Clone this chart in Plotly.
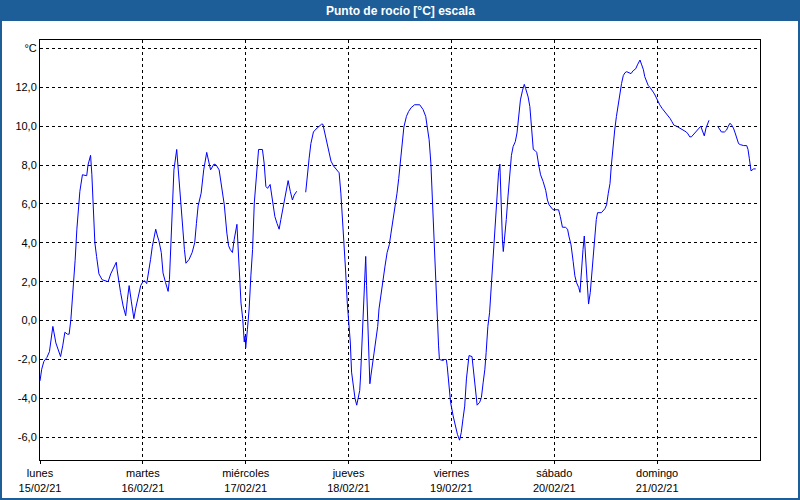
import pandas as pd
import plotly.graph_objects as go

# Hours since 15/02/21 00:00 and dew point readings (°C); None = missing data
hours = [
    0.0, 0.4, 0.9, 1.6, 2.2, 2.6, 3.0, 3.7, 4.3, 4.8, 5.3, 5.8, 6.4, 6.8, 7.2, 7.8,
    8.2, 8.6, 8.9, 9.3, 9.9, 10.9, 11.2, 11.65, 11.8, 12.1, 12.4, 12.8, 13.2, 13.75,
    14.5, 15.9, 16.5, 17.3, 17.8, 18.0, 18.4, 18.8, 19.4, 20.0, 20.4, 20.8, 21.3,
    21.9, 22.3, 22.9, 23.5, 24.0, 24.4, 24.9, 25.3, 25.8, 26.2, 27.0, 27.4, 27.75,
    28.3, 28.7, 29.3, 29.9, 30.2, 30.5, 30.9, 31.25, 31.9, 32.3, 32.8, 33.35, 33.7,
    34.05, 34.8, 35.5, 36.1, 36.5, 36.9, 37.6, 37.9, 38.2, 38.9, 39.2, 39.8, 40.6,
    41.1, 41.8, 42.4, 43.0, 43.6, 44.0, 44.4, 44.9, 45.3, 45.7, 45.95, 46.1, 46.5,
    46.9, 47.3, 47.66, 47.85, 48.0, 48.4, 48.8, 49.2, 49.6, 50.0, 50.4, 50.8, 51.0,
    51.9, 52.3, 52.7, 53.1, 53.7, 54.3, 54.8, 55.3, 55.8, 56.2, 56.6, 57.1, 57.6,
    57.9, 58.4, 58.9, 59.3, 59.9,
    61.0,
    62.0, 62.4, 62.8, 63.2, 63.8, 64.4, 65.2, 65.7, 66.0, 66.3, 66.8, 67.3, 67.9,
    68.5, 69.2, 69.8, 70.2, 70.6, 71.0, 71.3, 71.7, 72.0, 72.4, 72.7, 73.2, 73.5,
    73.9, 74.2, 74.6, 74.8, 75.2, 75.6, 75.8, 76.0, 76.2, 76.6, 76.97, 77.2, 77.6,
    78.1, 78.8, 79.1, 79.9, 80.5, 81.0, 81.5, 81.9, 82.5, 82.9, 83.3, 83.7, 84.1,
    84.5, 84.9, 85.5, 86.0, 86.6, 87.4, 88.6, 89.4, 90.0, 90.4, 90.8, 91.2, 91.5,
    91.7, 92.0, 92.3, 92.5, 92.7, 93.0, 93.2, 94.0, 94.4, 94.8, 95.0, 95.4, 95.8,
    96.4, 96.9, 97.4, 97.9, 98.3, 98.7, 99.1, 99.5, 99.9, 100.1, 100.8, 101.2,
    101.6, 102.0, 102.6, 103.0, 103.4, 103.8, 104.1, 104.5, 104.9, 105.3, 105.7,
    106.0, 106.2, 106.5, 106.7, 107.0, 107.3, 107.5, 107.7, 107.9, 108.1, 108.4,
    108.8, 109.2, 109.6, 110.0, 110.4, 110.9, 111.3, 111.7, 112.1, 112.6, 113.0,
    113.3, 113.9, 114.3, 114.7, 115.1, 115.5, 115.9, 116.4, 116.8, 117.4, 118.0,
    118.4, 118.8, 119.7, 120.5, 121.0, 121.4, 121.9, 122.6, 123.1, 123.4, 123.9,
    124.4, 124.8, 125.2, 125.7, 126.0, 126.3, 126.7, 127.0, 127.3, 127.5, 127.7,
    128.0, 128.4, 128.7, 129.1, 129.5, 129.8, 130.1, 131.0, 131.8, 132.2, 132.6,
    133.0, 133.3, 133.7, 134.1, 134.5, 134.9, 135.3, 135.7, 136.1, 136.5, 136.9,
    137.4, 137.9, 138.4, 139.0, 139.4, 140.0, 140.4, 140.8, 141.1, 141.5, 141.9,
    142.3, 142.7, 143.1, 143.5, 143.8, 144.2, 144.6, 145.2, 145.8, 146.4, 147.0,
    147.4, 147.9, 148.5, 149.3, 149.8, 150.5, 150.8, 151.2, 151.6, 152.0, 152.4,
    153.0, 153.4, 153.8, 154.2, 154.5, 155.0, 155.4, 155.7, 156.1,
    157.1,
    158.1, 158.5, 159.0, 159.7, 160.2, 160.6, 161.0, 161.4, 161.8, 162.2, 162.6,
    163.0, 163.4, 164.2, 164.9, 165.2, 165.5, 165.7, 165.9, 166.5, 167.0,
]
dew_point = [
    -3.1, -2.5, -2.1, -1.9, -1.6, -0.8, -0.3, -1.15, -1.6, -1.85, -1.3, -0.6, -0.7, -0.7, 0.05, 1.8,
    3.1, 4.7, 5.7, 6.65, 7.5, 7.45, 8.0, 8.3, 8.5, 7.5, 6.0, 4.0, 3.3, 2.4,
    2.1, 2.0, 2.4, 2.75, 3.0, 2.6, 1.95, 1.45, 0.75, 0.25, 1.1, 1.8, 1.0,
    0.1, 0.6, 1.25, 1.8, 2.0, 2.05, 1.9, 2.4, 3.15, 3.8, 4.7, 4.35, 4.1,
    3.5, 2.45, 1.95, 1.5, 2.1, 4.0, 6.05, 7.75, 8.8, 7.6, 6.05, 4.85, 3.65,
    2.95, 3.15, 3.5, 4.0, 5.0, 5.9, 6.55, 7.1, 7.75, 8.65, 8.35, 7.75, 8.05,
    8.0, 7.75, 6.75, 5.95, 4.5, 3.85, 3.65, 3.5, 4.15, 4.7, 4.95, 4.3, 2.6,
    0.9, 0.1, -1.1, -0.8, -1.4, -0.45, 0.6, 2.3, 3.65, 6.05, 7.25, 8.25, 8.8,
    8.8, 8.1, 6.9, 6.8, 7.0, 6.2, 5.35, 5.0, 4.7, 5.2, 5.7, 6.4, 7.0,
    7.2, 6.65, 6.2, 6.45, 6.65,
    None,
    6.6, 7.6, 8.35, 9.1, 9.7, 9.85, 10.0, 10.1, 10.1, 9.8, 9.2, 8.7, 8.2,
    7.95, 7.75, 7.6, 6.55, 5.2, 4.0, 2.6, 0.9, 0.05, -1.1, -2.65, -3.5, -4.0,
    -4.35, -3.95, -3.6, -2.85, -0.95, 1.1, 2.6, 3.3, 1.8, -0.8, -3.25, -2.85, -2.15,
    -1.3, -0.3, 0.6, 1.95, 2.8, 3.5, 3.9, 4.5, 5.35, 6.05, 6.55, 7.3, 8.25,
    9.1, 9.95, 10.5, 10.75, 10.95, 11.1, 11.1, 10.85, 10.5, 10.0, 9.3, 8.1, 6.4,
    5.2, 3.8, 2.45, 1.25, 0.05, -1.3, -2.0, -2.05, -2.0, -2.0, -2.3, -3.35, -4.2,
    -4.9, -5.4, -5.85, -6.15, -5.75, -5.05, -4.4, -3.0, -2.15, -1.8, -1.85, -2.65,
    -3.7, -4.35, -4.2, -3.95, -3.2, -2.5, -1.65, -0.3, 0.4, 1.8, 3.5,
    4.15, 5.2, 6.2, 6.9, 7.6, 8.05, 6.4, 5.5, 4.15, 3.55, 4.15,
    5.2, 6.4, 7.4, 8.5, 8.95, 9.2, 9.65, 10.5, 11.35, 11.85, 12.15,
    11.95, 11.5, 11.0, 9.8, 8.8, 8.75, 8.65, 7.95, 7.5, 7.15, 6.7,
    6.2, 5.95, 5.7, 5.7, 5.7, 5.35, 4.8, 4.8, 4.7, 4.35, 3.9,
    3.05, 2.3, 1.95, 1.7, 1.45, 2.6, 3.65, 4.35, 3.3, 2.3, 1.95,
    0.85, 1.45, 2.3, 3.5, 4.35, 5.2, 5.55, 5.55, 5.75, 5.95, 6.55,
    7.05, 7.95, 8.95, 9.8, 10.5, 11.15, 11.7, 12.2, 12.6, 12.75, 12.8,
    12.75, 12.7, 12.85, 12.95, 13.15, 13.4, 13.15, 12.9, 12.55, 12.3, 12.1,
    12.0, 11.9, 11.75, 11.6, 11.45, 11.25, 11.1, 10.9, 10.75, 10.6, 10.4,
    10.25, 10.05, 10.0, 9.9, 9.8, 9.75, 9.7, 9.6, 9.45, 9.45, 9.55,
    9.65, 9.8, 9.9, 10.0, 9.8, 9.5, 9.9, 10.1, 10.3,
    None,
    10.0, 9.85, 9.7, 9.7, 9.8, 10.0, 10.15, 10.05, 9.9, 9.65, 9.4,
    9.1, 9.05, 9.0, 9.0, 8.8, 8.35, 8.0, 7.7, 7.8, 7.8,
]

day_ticks = ["2021-02-15", "2021-02-16", "2021-02-17", "2021-02-18",
             "2021-02-19", "2021-02-20", "2021-02-21"]
day_names = ["lunes", "martes", "miércoles", "jueves", "viernes", "sábado", "domingo"]
day_dates = ["15/02/21", "16/02/21", "17/02/21", "18/02/21", "19/02/21", "20/02/21", "21/02/21"]

y_ticks = [-6, -4, -2, 0, 2, 4, 6, 8, 10, 12, 14]
y_labels = ["-6,0", "-4,0", "-2,0", "0,0", "2,0", "4,0", "6,0", "8,0", "10,0", "12,0", "°C"]

start = pd.Timestamp("2021-02-15 00:00")
times = [start + pd.Timedelta(hours=h) for h in hours]

FRAME = "#1E5E98"
FONT = "Liberation Sans"

fig = go.Figure()
fig.add_trace(go.Scatter(
    x=times, y=dew_point, mode="lines",
    line=dict(color="#0000FF", width=1),
    connectgaps=False, showlegend=False, hoverinfo="x+y",
))

W, H = 800, 500
L, R, T, B = 40, 40, 40, 40
pw, ph = W - L - R, H - T - B


def px_x(px):
    return (px - L) / pw


def px_y(py):
    return (H - B - py) / ph


shapes = [
    dict(type="rect", xref="paper", yref="paper", x0=px_x(0), x1=px_x(W),
         y0=px_y(21), y1=px_y(0), fillcolor=FRAME, line=dict(width=0), layer="above"),
    dict(type="rect", xref="paper", yref="paper", x0=px_x(0), x1=px_x(2),
         y0=px_y(H), y1=px_y(0), fillcolor=FRAME, line=dict(width=0), layer="above"),
    dict(type="rect", xref="paper", yref="paper", x0=px_x(W - 2), x1=px_x(W),
         y0=px_y(H), y1=px_y(0), fillcolor=FRAME, line=dict(width=0), layer="above"),
    dict(type="rect", xref="paper", yref="paper", x0=px_x(0), x1=px_x(W),
         y0=px_y(H), y1=px_y(H - 2), fillcolor=FRAME, line=dict(width=0), layer="above"),
]

fig.update_layout(
    width=W, height=H,
    margin=dict(l=L, r=R, t=T, b=B, autoexpand=False),
    paper_bgcolor="white", plot_bgcolor="white",
    font=dict(family=FONT, size=11, color="#000000"),
    shapes=shapes,
    annotations=[dict(
        text="<b>Punto de rocío [°C] escala</b>", xref="paper", yref="paper",
        x=0.5, y=px_y(10.5), xanchor="center", yanchor="middle", showarrow=False,
        font=dict(family=FONT, size=12, color="white"),
    )],
    xaxis=dict(
        type="date", automargin=False,
        range=["2021-02-15 00:00", "2021-02-22 00:00"],
        tickvals=day_ticks,
        ticktext=[f"{n}<br>{d}" for n, d in zip(day_names, day_dates)],
        showgrid=True, gridcolor="black", griddash="3px,3px", gridwidth=1,
        showline=True, linecolor="black", linewidth=1, mirror=True,
        ticks="outside", ticklen=3, tickcolor="black",
        zeroline=False, tickangle=0,
        tickfont=dict(family=FONT, size=11, color="#000000"),
    ),
    yaxis=dict(
        automargin=False,
        range=[-7.17, 14.43],
        tickvals=y_ticks, ticktext=y_labels,
        showgrid=True, gridcolor="black", griddash="3px,3px", gridwidth=1,
        showline=True, linecolor="black", linewidth=1, mirror=True,
        ticks="", zeroline=False,
        tickfont=dict(family=FONT, size=11, color="#000000"),
    ),
)

fig.write_html("out.html", config={"displayModeBar": False},
               post_script="document.body.style.margin='0px';")
